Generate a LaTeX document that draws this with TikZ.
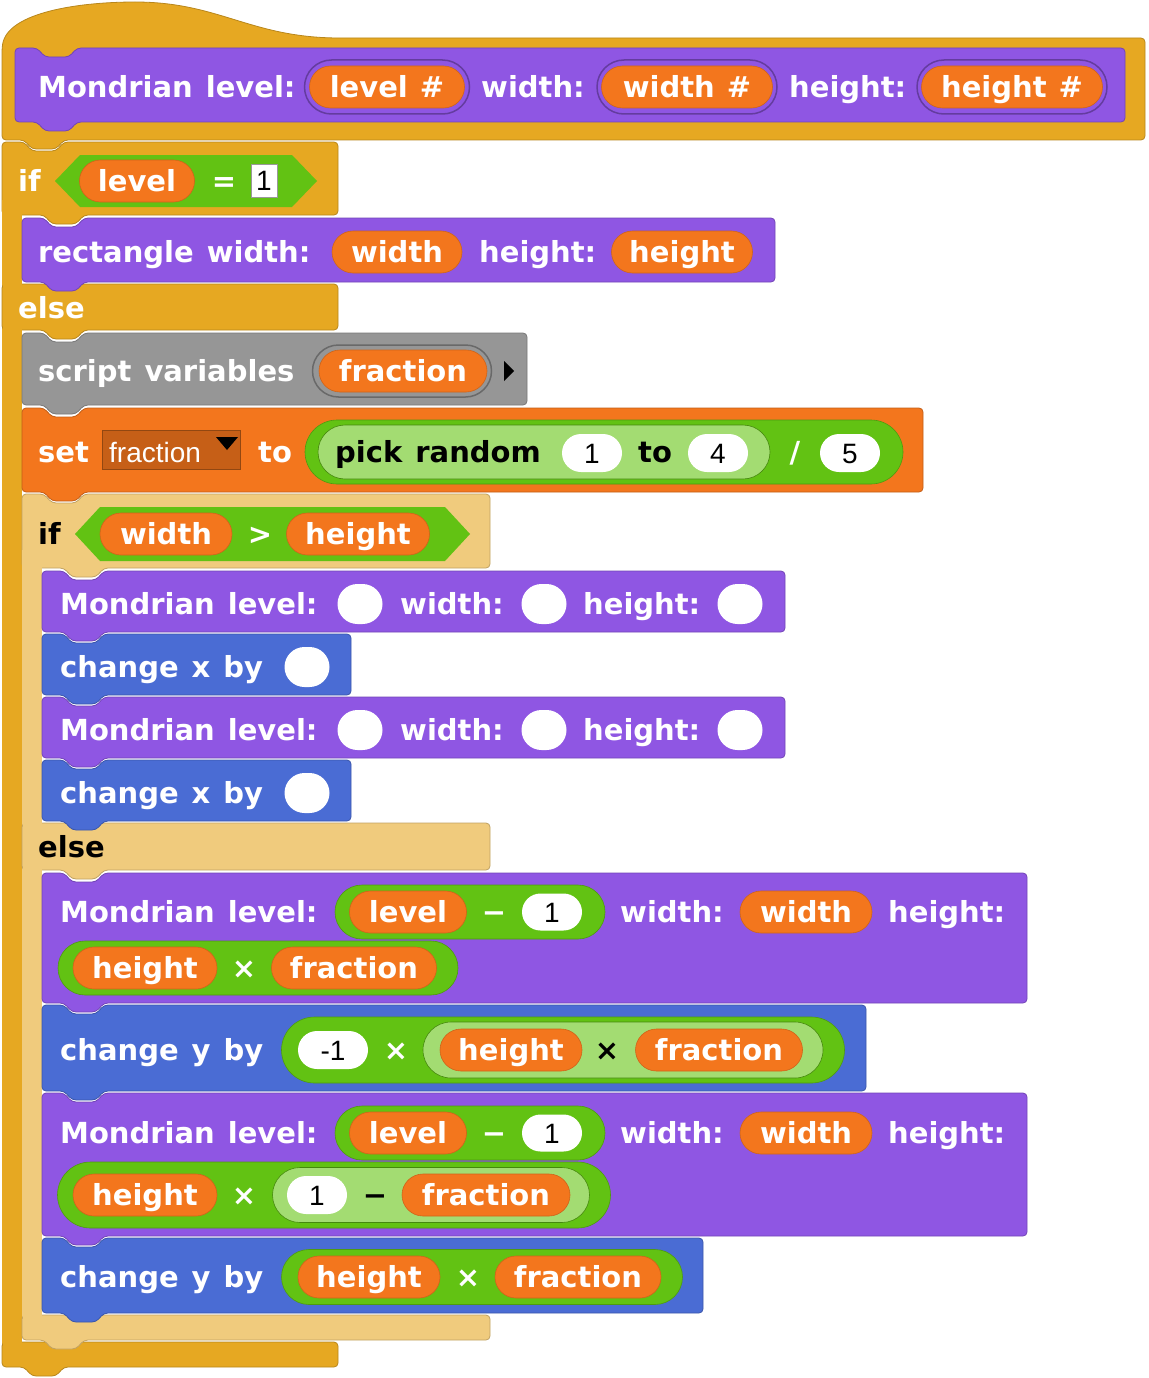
\documentclass[tikz,border=0pt]{standalone}
\usepackage{fontspec}
\usepackage{tikz}
\usetikzlibrary{shapes.misc}
\newfontfamily\snapfont{DejaVu Sans}
\newfontfamily\numfont{Liberation Sans}
\newcommand\snapbold{\snapfont\bfseries\fontsize{29}{31}\selectfont\spaceskip=13pt\relax}
\newcommand\snapnum{\numfont\fontsize{28}{30}\selectfont}
\definecolor{ctrl}{HTML}{E6A822}
\definecolor{ctrllight}{HTML}{F0CB7D}
\definecolor{other}{HTML}{8F56E3}
\definecolor{motion}{HTML}{4A6CD4}
\definecolor{vars}{HTML}{F3761D}
\definecolor{varsdark}{HTML}{C65F17}
\definecolor{ops}{HTML}{62C213}
\definecolor{opslight}{HTML}{A3DC72}
\definecolor{lists}{HTML}{969696}
\def\cmdblock[#1](#2,#3)(#4,#5)<#6>{\path[#1,rounded corners=4] (#2,{#3+12}) -- (#2,#3) -- ({#2+22},#3) -- ({#2+30},{#3+9}) -- ({#2+54},{#3+9}) -- ({#2+62},#3) -- (#4,#3) -- (#4,#5) -- ({#6+62},#5) -- ({#6+54},{#5+9}) -- ({#6+30},{#5+9}) -- ({#6+22},#5) -- (#2,#5) -- cycle;}
\def\armbar[#1](#2,#3)(#4,#5)<#6>{\path[#1,rounded corners=4] (#2,{#3+10}) -- (#2,#3) -- (#4,#3) -- (#4,#5) -- ({#6+62},#5) -- ({#6+54},{#5+9}) -- ({#6+30},{#5+9}) -- ({#6+22},#5) -- (#2,#5) -- cycle;}
\tikzset{
	blk/.style={fill=#1, draw=#1!80!black, line width=0.8},
	txt/.style={font=\snapbold, text=white, inner sep=0pt, text height=21pt, text depth=0pt},
	lab/.style={txt, anchor=west},
	blab/.style={lab, text=black},
	var/.style={rounded rectangle, fill=vars, draw=vars!85!black, line width=0.6, txt, minimum height=42},
	slot/.style={rounded rectangle, fill=white, inner sep=0pt, minimum height=38, font=\snapnum, text=black, text height=20pt, text depth=0pt},
	oppill/.style={rounded rectangle, fill=ops, draw=ops!80!black, line width=0.6, inner sep=0pt},
	zebra/.style={rounded rectangle, fill=opslight, draw=ops!70!black, line width=0.6, inner sep=0pt},
	ring/.style={rounded rectangle, fill=#1, draw=#1!70!black, line width=1.5, inner sep=0pt, minimum height=54}
}
\begin{document}
\begin{tikzpicture}[x=1pt,y=-1pt]
			%%%%% START %%%%%
			\useasboundingbox (0,0) rectangle (1148,1378);
			
			% hat block
			\path[blk=ctrl, rounded corners=4] (2,90) -- (2,48) [sharp corners] .. controls (8,12) and (80,2) .. (135,2) .. controls (220,2) and (250,38) .. (340,38) [rounded corners=4] -- (1145,38) -- (1145,140) -- (64,140) -- (56,149) -- (32,149) -- (24,140) -- (2,140) -- cycle;
			\cmdblock[blk=other](15,48)(1125,122)<15>
			\node[lab] (hdr) at (38,87) {Mondrian level:};
			\node[ring=other, minimum width=165] (ringlvl) at (387,87) {};
			\node[var, minimum width=155] (parlvl) at (387,87) {level\hspace{12pt}\#};
			\node[lab] (hdrw) at (481,87) {width:};
			\node[ring=other, minimum width=180] (ringw) at (687,87) {};
			\node[var, minimum width=171] (parw) at (687,87) {width\hspace{12pt}\#};
			\node[lab] (hdrh) at (789,87) {height:};
			\node[ring=other, minimum width=190] (ringh) at (1012,87) {};
			\node[var, minimum width=181] (parh) at (1012,87) {height\hspace{12pt}\#};
			
			% outer if else
			\cmdblock[blk=ctrl](2,142)(338,215)<22>
			\fill[ctrl] (2,200) rectangle (22,1352);
			\armbar[blk=ctrl](2,284)(338,330)<22>
			\armbar[blk=ctrl](2,1342)(338,1367)<2>
			\fill[ctrl] (2.5,200) rectangle (21.5,1352);
			\node[lab] (if1) at (18,181) {if};
			\fill[ops] (55,181) -- (80,155) -- (292,155) -- (317,181) -- (292,207) -- (80,207) -- cycle;
			\node[var, minimum width=115] (lvl1) at (137,181) {level};
			\node[txt] (eq) at (224,181) {=};
			\node[draw=black!40, fill=white, minimum width=26, minimum height=33, inner sep=0pt, font=\snapnum, text=black] (one) at (264,181) {1};
			\node[lab] (else1) at (18,308) {else};
			
			\cmdblock[blk=other](22,218)(775,282)<22>
			\node[lab] (rect) at (38,252) {rectangle width:};
			\node[var, minimum width=130] (rw) at (397,252) {width};
			\node[lab] (recth) at (479,252) {height:};
			\node[var, minimum width=141] (rh) at (682,252) {height};
			
			% script variables, set
			\cmdblock[blk=lists](22,333)(527,405)<22>
			\node[lab] (svars) at (38,371) {script variables};
			\node[ring=lists, minimum width=179, minimum height=52] (ringfr) at (402,371) {};
			\node[var, minimum width=168] (fr) at (403,371) {fraction};
			\fill[black] (504,361) -- (514,371) -- (504,381) -- cycle;
			
			\cmdblock[blk=vars](22,408)(923,492)<22>
			\node[lab] (set) at (38,452) {set};
			\node[fill=varsdark, draw=vars!60!black, line width=0.6, minimum width=138, minimum height=39, inner sep=0pt] (dd) at (171,450) {};
			\node[lab, font=\snapnum] (ddtxt) at (109,452) {fraction};
			\fill[black] (216,437) -- (238,437) -- (227,450) -- cycle;
			\node[lab] (to) at (258,452) {to};
			\node[oppill, minimum width=598, minimum height=64] (quot) at (604,452) {};
			\node[zebra, minimum width=452, minimum height=54] (rnd) at (544,452) {};
			\node[blab] (pick) at (335,452) {pick random};
			\node[slot, minimum width=60] (lo) at (592,453) {1};
			\node[blab] (to2) at (638,452) {to};
			\node[slot, minimum width=60] (hi) at (718,453) {4};
			\node[txt] (slash) at (795,452) {/};
			\node[slot, minimum width=60] (five) at (850,453) {5};
			
			% inner if else
			\cmdblock[blk=ctrllight](22,494)(490,568)<42>
			\fill[ctrllight] (22,550) rectangle (42,1330);
			\armbar[blk=ctrllight](22,823)(490,870)<42>
			\armbar[blk=ctrllight](22,1315)(490,1340)<22>
			\fill[ctrllight] (22.5,550) rectangle (41.5,1330);
			\node[blab] (if2) at (38,534) {if};
			\fill[ops] (75,534) -- (100,507) -- (445,507) -- (470,534) -- (445,561) -- (100,561) -- cycle;
			\node[var, minimum width=132] (gtw) at (166,534) {width};
			\node[txt] (gt) at (260,534) {>};
			\node[var, minimum width=143] (gth) at (358,534) {height};
			\node[blab] (else2) at (38,847) {else};
			
			% then part
			\cmdblock[blk=other](42,571)(785,632)<42>
			\node[lab] (ma) at (60,604) {Mondrian level:};
			\node[slot, minimum width=45, minimum height=40] (maa) at (360,604) {};
			\node[lab] (maw) at (400,604) {width:};
			\node[slot, minimum width=45, minimum height=40] (mab) at (544,604) {};
			\node[lab] (mah) at (583,604) {height:};
			\node[slot, minimum width=45, minimum height=40] (mac) at (740,604) {};
			\cmdblock[blk=motion](42,634)(351,695)<42>
			\node[lab] (cxa) at (60,667) {change x by};
			\node[slot, minimum width=45, minimum height=40] (cxas) at (307,667) {};
			\cmdblock[blk=other](42,697)(785,758)<42>
			\node[lab] (mb) at (60,730) {Mondrian level:};
			\node[slot, minimum width=45, minimum height=40] (mba) at (360,730) {};
			\node[lab] (mbw) at (400,730) {width:};
			\node[slot, minimum width=45, minimum height=40] (mbb) at (544,730) {};
			\node[lab] (mbh) at (583,730) {height:};
			\node[slot, minimum width=45, minimum height=40] (mbc) at (740,730) {};
			\cmdblock[blk=motion](42,760)(351,821)<42>
			\node[lab] (cxb) at (60,793) {change x by};
			\node[slot, minimum width=45, minimum height=40] (cxbs) at (307,793) {};
			
			% else part
			\cmdblock[blk=other](42,873)(1027,1003)<42>
			\node[lab] (mc) at (60,912) {Mondrian level:};
			\node[oppill, minimum width=270, minimum height=54] (mcm) at (470,912) {};
			\node[var, minimum width=117] (mclvl) at (408,912) {level};
			\node[txt] (mcminus) at (494,912) {−};
			\node[slot, minimum width=60, minimum height=37] (mcone) at (552,912) {1};
			\node[lab] (mcw) at (620,912) {width:};
			\node[var, minimum width=132] (mcwv) at (806,912) {width};
			\node[lab] (mch) at (888,912) {height:};
			\node[oppill, minimum width=400, minimum height=54] (mct) at (258,968) {};
			\node[var, minimum width=144] (mchv) at (145,968) {height};
			\node[txt] (mctimes) at (244,968) {×};
			\node[var, minimum width=165] (mcfr) at (354,968) {fraction};
			
			\cmdblock[blk=motion](42,1005)(866,1091)<42>
			\node[lab] (cya) at (60,1050) {change y by};
			\node[oppill, minimum width=563, minimum height=66] (cyat) at (563,1050) {};
			\node[slot, minimum width=70] (neg) at (333,1050) {-1};
			\node[txt] (cyatimes) at (396,1050) {×};
			\node[zebra, minimum width=400, minimum height=56] (cyaz) at (623,1050) {};
			\node[var, minimum width=142] (cyah) at (511,1050) {height};
			\node[txt, text=black] (cyaztimes) at (607,1050) {×};
			\node[var, minimum width=167] (cyafr) at (719,1050) {fraction};
			
			\cmdblock[blk=other](42,1093)(1027,1236)<42>
			\node[lab] (md) at (60,1133) {Mondrian level:};
			\node[oppill, minimum width=270, minimum height=54] (mdm) at (470,1133) {};
			\node[var, minimum width=117] (mdlvl) at (408,1133) {level};
			\node[txt] (mdminus) at (494,1133) {−};
			\node[slot, minimum width=60, minimum height=37] (mdone) at (552,1133) {1};
			\node[lab] (mdw) at (620,1133) {width:};
			\node[var, minimum width=132] (mdwv) at (806,1133) {width};
			\node[lab] (mdh) at (888,1133) {height:};
			\node[oppill, minimum width=553, minimum height=66] (mdt) at (334,1195) {};
			\node[var, minimum width=144] (mdhv) at (145,1195) {height};
			\node[txt] (mdtimes) at (244,1195) {×};
			\node[zebra, minimum width=317, minimum height=55] (mdz) at (431,1195) {};
			\node[slot, minimum width=60] (mdone2) at (317,1195) {1};
			\node[txt, text=black] (mdzminus) at (375,1195) {−};
			\node[var, minimum width=168] (mdfr) at (486,1195) {fraction};
			
			\cmdblock[blk=motion](42,1238)(703,1313)<42>
			\node[lab] (cyb) at (60,1277) {change y by};
			\node[oppill, minimum width=401, minimum height=55] (cybt) at (482,1277) {};
			\node[var, minimum width=142] (cybh) at (369,1277) {height};
			\node[txt] (cybtimes) at (468,1277) {×};
			\node[var, minimum width=166] (cybfr) at (578,1277) {fraction};
			
			%%%%% END %%%%%
\end{tikzpicture}
\end{document}
